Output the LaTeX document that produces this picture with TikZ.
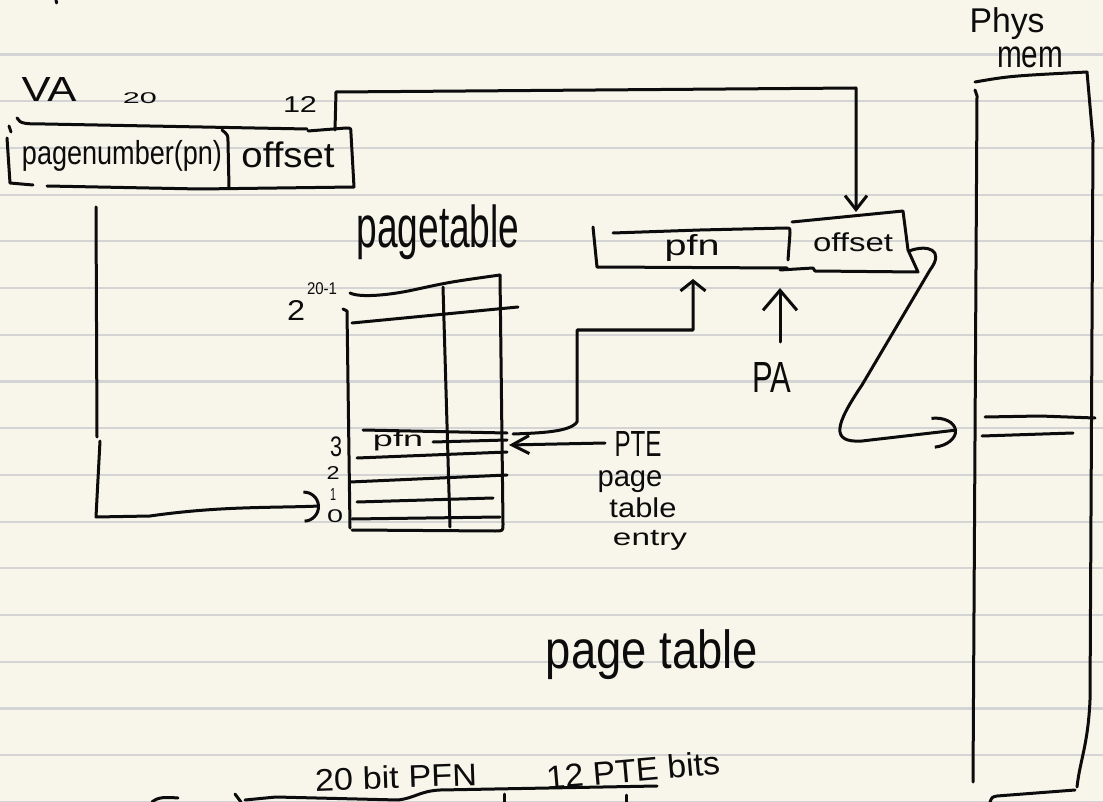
\documentclass[tikz,border=0pt]{standalone}
\usepackage{fontspec}
\setmainfont{Liberation Sans}
\usepackage{graphicx}
\usetikzlibrary{arrows.meta}
\definecolor{paper}{RGB}{248,246,234}
\definecolor{rulegrey}{RGB}{212,212,212}
\definecolor{ink}{RGB}{12,12,12}
\newcommand{\hw}[3]{\resizebox*{#1pt}{#2pt}{#3}}
\tikzset{
  ruling/.style={draw=rulegrey, line width=2.2pt},
  pen/.style={draw=ink, line width=3pt, line cap=round, line join=round},
  txt/.style={inner sep=0pt, outer sep=0pt, text=ink},
}
\begin{document}
\begin{tikzpicture}[x=1pt,y=-1pt]
\fill[paper] (0,0) rectangle (1103,802);
\useasboundingbox (0,0) rectangle (1103,802);
\foreach \k in {0,...,16} \draw[ruling] (0,{54.6+46.7*\k}) -- (1103,{54.6+46.7*\k});
\draw[pen] (56,0) -- (56.6,3);

% ---------- VA box ----------
\node[txt] (va) at (49,90) {\hw{55}{24}{VA}};
\node[txt] (b20) at (140,98) {\hw{34}{11}{20}};
\node[txt] (b12) at (300,105) {\hw{34}{16}{12}};
\draw[pen] (17,118) .. controls (20,124) and (26,124) .. (45,124) -- (307,129);
\draw[pen] (9,126) -- (11,132);
\draw[pen] (7,138) -- (10,183) -- (33,185);
\draw[pen] (308,131) -- (346,128) .. controls (351,128) .. (351,134) -- (354,187) -- (200,189) -- (47,186);
\draw[pen] (222,130) .. controls (228,135) .. (228,142) -- (229,187);
\node[txt] (pn) at (122,156) {\hw{200}{31}{pagenumber(pn)}};
\node[txt] (vaoff) at (288,155) {\hw{93}{26}{offset}};
\coordinate (vaoffR) at (335,130);

% ---------- PA box ----------
\draw[pen] (593,227) -- (597,267) -- (787,268);
\draw[pen] (613,233) -- (700,230) -- (786,228) .. controls (790,228) .. (790,233) -- (788,260);
\draw[pen] (780,270) -- (813,268) -- (815,271) -- (918,272) -- (908,250) -- (903,211) -- (792,222);
\node[txt] (papfn) at (692,248) {\hw{55}{27}{pfn}};
\node[txt] (paoff) at (853,242) {\hw{80}{19}{offset}};
\coordinate (paoffT) at (856,212);
\coordinate (papfnB) at (693,279);
\coordinate (paoffR) at (909,251);
\node[txt] (pa) at (772,377) {\hw{39}{30}{PA}};
\coordinate (paB) at (780,288);

\draw[pen, -{Straight Barb[length=14pt,width=22pt]}] (vaoffR) -- (336,92) -- (856,88) -- (paoffT);
\draw[pen, -{Straight Barb[length=20pt,width=34pt]}] (780,342) -- (paB);

% ---------- page table ----------
\node[txt] (ptlabel) at (438,232) {\hw{163}{55}{pagetable}};
\draw[pen] (350,293) .. controls (360,298) and (390,295) .. (413,290) .. controls (450,282) .. (500,275);
\draw[pen] (500,275) -- (503,524) .. controls (503,531) .. (495,531) -- (352,530);
\draw[pen] (343,309) -- (347,311) -- (350,528);
\draw[pen] (352,323) -- (518,307);
\draw[pen] (443,287) -- (450,527);
\draw[pen] (363,430) -- (507,433);
\draw[pen] (433,442) -- (507,440);
\draw[pen] (357,458) -- (507,452);
\draw[pen] (350,482) -- (507,475);
\draw[pen] (357,502) -- (493,498);
\draw[pen] (352,519) -- (500,517);
\node[txt] (ptpfn) at (398,441) {\hw{50}{20}{pfn}};
\node[txt] (i2) at (296,310) {\hw{18}{20}{2}};
\node[txt] (i20) at (322,289) {\hw{30}{12}{20-1}};
\node[txt] (i3) at (336,447) {\hw{12}{20}{3}};
\node[txt] (ii2) at (333,473) {\hw{13}{13}{2}};
\node[txt] (i1) at (333,494) {\hw{6}{12}{1}};
\node[txt] (i0) at (335,516) {\hw{16}{13}{0}};
\coordinate (ptrow) at (513,434);
\coordinate (ptrowR) at (509,445);
\coordinate (ptentry0) at (320,506);

% ---------- PTE label ----------
\node[txt] (pte) at (638,444) {\hw{47}{25}{PTE}};
\node[txt] (pg) at (630,482) {\hw{65}{22}{page}};
\node[txt] (tb) at (643,508) {\hw{67}{20}{table}};
\node[txt] (en) at (650,540) {\hw{74}{20}{entry}};
\draw[pen, -{Straight Barb[length=17pt,width=18pt]}] (605,443) -- (ptrowR);

% table row -> PA pfn
\draw[pen, -{Straight Barb[length=10pt,width=25pt]}] (ptrow) .. controls (540,433) and (570,432) .. (577,422) -- (577,330) -- (693,330) -- (papfnB);

% VA pn -> entry 0
\coordinate (pnB) at (96,207);
\draw[pen] (pnB) -- (97,437);
\draw[pen, -{Arc Barb[length=16pt,width=32pt]}] (100,441) -- (96,517) -- (150,516) .. controls (220,506) and (270,508) .. (ptentry0);

% ---------- physical memory ----------
\node[txt] (phys) at (1007,24) {\hw{75}{32}{Phys}};
\node[txt] (mem) at (1030,57) {\hw{66}{21}{mem}};
\draw[pen] (975,82) .. controls (1010,76) .. (1087,72);
\draw[pen] (975,90) -- (977,96) -- (973,782);
\draw[pen] (1087,72) -- (1093,140) -- (1090,700) .. controls (1088,745) and (1080,760) .. (1077,787);
\draw[pen] (990,802) .. controls (992,797) .. (997,796) -- (1075,790);
\draw[pen] (985,417) -- (1040,416) -- (1095,418);
\draw[pen] (982,436) -- (1073,433);
\coordinate (pmrow) at (957,430);
\draw[pen, -{Arc Barb[length=24pt,width=32pt]}] (paoffR) .. controls (928,244) and (945,250) .. (930,270) -- (862,385) .. controls (835,425) and (830,443) .. (862,441) -- (pmrow);

% ---------- bottom notes ----------
\node[txt] (ptbig) at (652,655) {\hw{212}{50}{page table}};
\node[txt] (bits20) at (396,777) {\rotatebox{2}{\hw{162}{23}{20 bit PFN}}};
\node[txt] (bits12) at (633,770) {\rotatebox{5}{\hw{174}{24}{12 PTE bits}}};
\draw[pen] (152,802) .. controls (158,797) and (165,797) .. (178,798);
\draw[pen] (235,794) -- (241,802);
\draw[pen] (245,800) -- (276,797) -- (398,800) .. controls (415,798) and (420,791) .. (440,790) -- (657,786);
\draw[pen] (504,794) -- (504,802);
\draw[pen] (626,795) -- (626,802);
\end{tikzpicture}
\end{document}
